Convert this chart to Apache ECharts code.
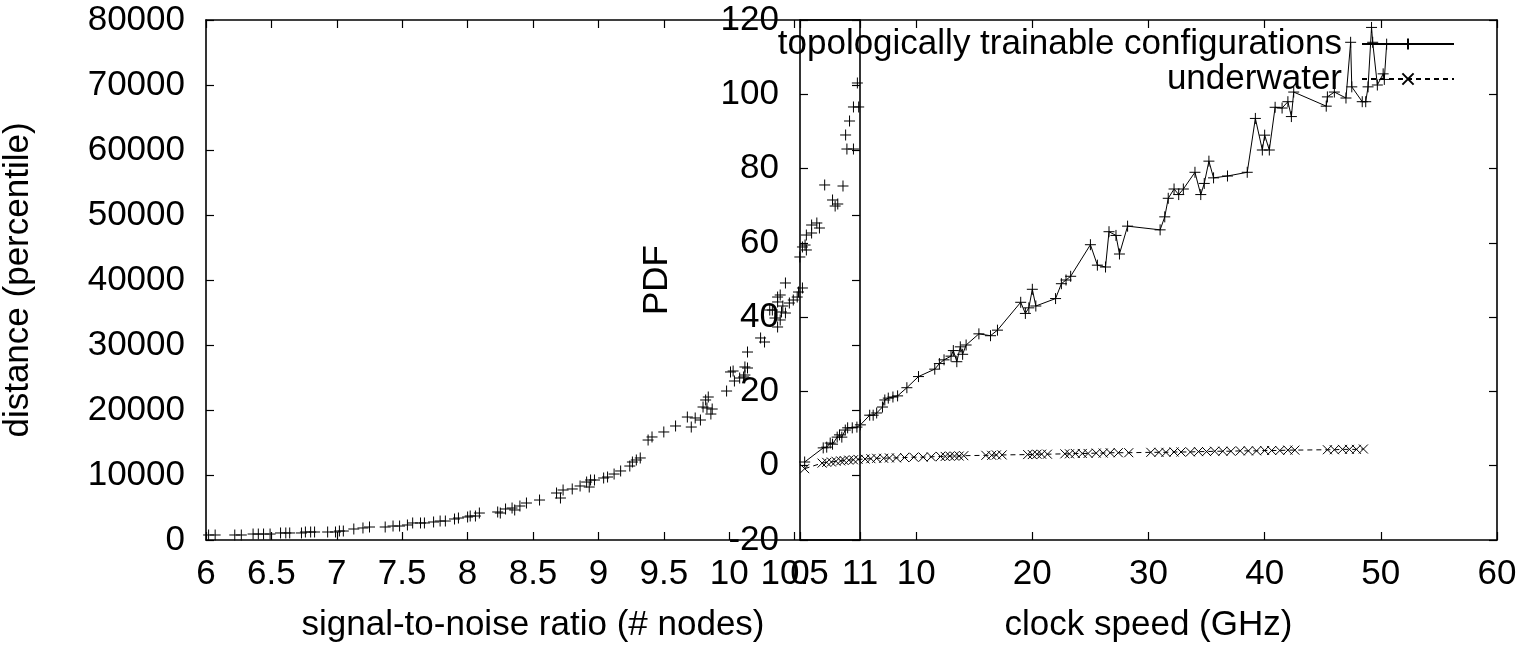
<!DOCTYPE html>
<html><head><meta charset="utf-8">
<script src="https://cdn.jsdelivr.net/npm/echarts@6/dist/echarts.min.js"></script>
<style>html,body{margin:0;padding:0;background:#fff}#c{width:1522px;height:648px}</style>
</head><body><div id="c"></div>
<script>
// ---- left panel: signal-to-noise ratio vs distance ----
const snrX = [6.02,6.07,6.22,6.27,6.36,6.40,6.44,6.49,6.57,6.61,
  6.64,6.73,6.76,6.80,6.83,6.93,6.99,7.02,7.05,7.13,
  7.20,7.25,7.37,7.43,7.48,7.54,7.58,7.64,7.67,7.74,
  7.79,7.83,7.90,7.93,8.00,8.02,8.06,8.09,8.23,8.25,
  8.29,8.34,8.36,8.40,8.45,8.55,8.68,8.71,8.73,8.80,
  8.86,8.91,8.93,8.94,8.97,9.04,9.07,9.12,9.17,9.24,
  9.26,9.29,9.32,9.38,9.41,9.50,9.59,9.68,9.71,9.74,
  9.78,9.80,9.82,9.84,9.83,9.87,9.86,9.98,10.01,10.03,
  10.04,10.08,10.11,10.12,10.14,10.12,10.14,10.24,10.27,10.31,
  10.33,10.35,10.37,10.39,10.40,10.43,10.41,10.37,10.37,10.39,
  10.43,10.46,10.49,10.52,10.53,10.56,10.54,10.56,10.58,10.59,
  10.59,10.63,10.63,10.67,10.69,10.73,10.87,10.79,10.81,10.83,
  10.90,10.95,10.89,10.92,10.95,10.99,10.98];
const distY = [770,770,770,770,920,920,920,920,1080,1080,
  1080,1080,1230,1230,1230,1230,1230,1380,1380,1690,
  1850,2000,2000,2150,2150,2310,2620,2620,2620,2770,
  2920,2920,3230,3380,3540,3690,3690,4150,4310,4150,
  4770,4920,4620,5230,5690,6150,7230,6460,7690,7850,
  8310,8920,8150,9230,9230,9540,9690,10150,10620,11380,
  12000,12310,12620,15380,15850,16620,17540,18920,17380,18770,
  18460,20460,21540,22000,20310,20150,19380,22920,25850,26000,
  24460,24920,25080,26620,26460,25380,28920,31080,30460,35380,
  35380,34150,32770,33850,35080,34920,36000,36620,37380,37690,
  39540,36460,36920,37380,38150,38770,43540,45080,45380,46920,
  44620,47230,48460,48770,48000,54620,54460,52310,51380,51690,
  60150,60150,62310,64460,66620,66620,70310];

// ---- right panel: clock speed vs PDF ----
const topoName = 'topologically trainable configurations';
const waterName = 'underwater';
const clockX = [0.4,2.0,2.3,2.6,2.8,3.2,3.4,3.6,3.9,4.1,
  4.5,4.9,5.2,6.0,6.3,6.6,7.1,7.3,7.6,8.0,
  8.4,9.2,10.2,11.6,12.0,12.4,13.0,13.2,13.5,13.8,
  14.0,14.3,15.4,16.4,17.0,19.0,19.4,19.7,20.0,20.3,
  22.0,22.5,22.9,23.3,25.0,25.6,26.3,26.6,27.2,27.5,
  28.2,31.0,31.4,31.7,32.2,32.6,33.0,34.0,34.5,34.8,
  35.2,35.6,36.8,38.5,39.2,39.8,40.0,40.4,40.9,41.5,
  42.0,42.3,42.5,45.3,45.4,46.0,47.0,47.4,47.5,48.4,
  48.7,48.9,49.2,49.3,49.7,50.2,50.3,50.5];
const topoY = [1.0,4.8,5.0,6.1,5.8,7.7,8.3,7.7,9.6,10.2,
  10.2,10.4,11.0,13.6,13.6,14.2,15.8,17.7,18.2,18.5,
  18.8,21.0,24.0,26.0,27.5,28.5,29.5,31.0,28.0,32.0,
  30.0,32.5,35.5,35.0,36.5,44.0,41.0,42.5,47.5,43.0,
  45.0,49.0,50.0,51.0,59.5,54.0,53.5,63.0,62.0,57.0,
  64.5,63.5,67.0,72.0,74.5,73.0,74.5,79.0,73.0,76.0,
  82.0,77.5,78.0,79.0,93.5,85.0,89.0,85.0,96.5,96.3,
  98.0,94.0,100.6,96.8,99.3,100.6,99.0,114.0,102.0,98.0,
  98.0,102.0,118.0,114.0,102.5,105.5,104.0,113.5];
const waterX = [0.4,1.9,2.3,2.7,3.1,3.5,3.8,4.2,4.6,5.0,
  5.6,6.1,6.6,7.2,7.7,8.3,9.0,9.8,10.6,11.3,
  12.1,12.5,12.9,13.3,13.7,14.1,16.0,16.5,16.9,17.4,
  19.6,20.0,20.4,20.8,21.3,22.8,23.2,23.7,24.3,24.8,
  25.5,26.1,26.7,27.4,28.3,30.2,30.9,31.5,32.2,32.8,
  33.6,34.3,35.0,35.7,36.4,37.1,37.9,38.6,39.3,40.0,
  40.6,41.3,42.0,42.6,45.4,46.0,46.7,47.3,47.9,48.5];
const waterY = [-0.8,0.7,0.9,1.0,1.2,1.3,1.4,1.5,1.6,1.7,
  1.8,1.9,2.0,2.0,2.1,2.1,2.2,2.3,2.3,2.4,
  2.5,2.5,2.6,2.6,2.6,2.7,2.8,2.8,2.9,2.9,
  3.0,3.0,3.1,3.1,3.1,3.2,3.2,3.3,3.3,3.3,
  3.4,3.4,3.5,3.5,3.5,3.6,3.6,3.6,3.7,3.7,
  3.7,3.8,3.8,3.9,3.9,3.9,4.0,4.0,4.0,4.1,
  4.1,4.1,4.2,4.2,4.3,4.3,4.4,4.4,4.4,4.5];

const leftXRange = [6, 11, 0.5];
const leftYRange = [0, 80000, 10000];
const rightXRange = [0, 60, 10];
const rightYRange = [-20, 120, 20];

const FONT = '"Liberation Sans", Arial, Helvetica, sans-serif';
const FS = 35;
const PLUS = 'path://M0,5L10,5M5,0L5,10';
const CROSS = 'path://M0,0L10,10M10,0L0,10';

function zip(a, b) { return a.map((v, i) => [v, b[i]]); }

function axis(kind, grid, pos, range, showLabel, extra) {
  const o = {
    type: 'value', gridIndex: grid, position: pos,
    min: range[0], max: range[1], interval: range[2],
    axisLine: { show: true, onZero: false, lineStyle: { color: '#000', width: 1.6 } },
    axisTick: { show: true, inside: true, length: 8, lineStyle: { color: '#000', width: 1.2 } },
    splitLine: { show: false },
    axisLabel: { show: showLabel, color: '#000', fontFamily: FONT, fontSize: FS,
      margin: kind === 'x' ? 17 : 21, showMinLabel: true, showMaxLabel: true, hideOverlap: false,
      formatter: v => String(v) },
    nameTextStyle: { color: '#000', fontFamily: FONT, fontSize: FS }
  };
  return Object.assign(o, extra || {});
}

const chart = echarts.init(document.getElementById('c'), null, { renderer: 'canvas' });
chart.setOption({
  animation: false,
  backgroundColor: '#fff',
  grid: [
    { left: 206, top: 20, width: 654, height: 520 },
    { left: 800, top: 20, width: 697, height: 520 }
  ],
  xAxis: [
    axis('x', 0, 'bottom', leftXRange, true, { name: 'signal-to-noise ratio (# nodes)', nameLocation: 'middle', nameGap: 68 }),
    axis('x', 0, 'top', leftXRange, false),
    axis('x', 1, 'bottom', rightXRange, true, { name: 'clock speed (GHz)', nameLocation: 'middle', nameGap: 68 }),
    axis('x', 1, 'top', rightXRange, false)
  ],
  yAxis: [
    axis('y', 0, 'left', leftYRange, true, { name: 'distance (percentile)', nameLocation: 'middle', nameGap: 170 }),
    axis('y', 0, 'right', leftYRange, false),
    axis('y', 1, 'left', rightYRange, true, { name: 'PDF', nameLocation: 'middle', nameGap: 125 }),
    axis('y', 1, 'right', rightYRange, false)
  ],
  legend: {
    orient: 'vertical', right: 67, top: 26.5, align: 'right', padding: 0,
    itemWidth: 92, itemHeight: 14, itemGap: 0,
    data: [topoName, waterName],
    textStyle: { color: '#000', fontFamily: FONT, fontSize: FS, lineHeight: 35, padding: [0, 15, 0, 0] }
  },
  series: [
    {
      type: 'scatter', xAxisIndex: 0, yAxisIndex: 0,
      data: zip(snrX, distY),
      symbol: PLUS, symbolSize: 11,
      itemStyle: { color: '#000', borderColor: '#000', borderWidth: 1, opacity: 1 },
      emphasis: { disabled: true }, silent: true
    },
    {
      name: topoName, type: 'line', xAxisIndex: 2, yAxisIndex: 2,
      data: zip(clockX, topoY),
      symbol: PLUS, symbolSize: 11, showSymbol: true, showAllSymbol: true,
      lineStyle: { color: '#000', width: 1 },
      itemStyle: { color: '#000', borderColor: '#000', borderWidth: 1 },
      emphasis: { disabled: true }, silent: true
    },
    {
      name: waterName, type: 'line', xAxisIndex: 2, yAxisIndex: 2,
      data: zip(waterX, waterY),
      symbol: CROSS, symbolSize: 9, showSymbol: true, showAllSymbol: true,
      lineStyle: { color: '#000', width: 1, type: [5, 4] },
      itemStyle: { color: '#000', borderColor: '#000', borderWidth: 1 },
      emphasis: { disabled: true }, silent: true
    }
  ]
});
</script>
</body></html>
